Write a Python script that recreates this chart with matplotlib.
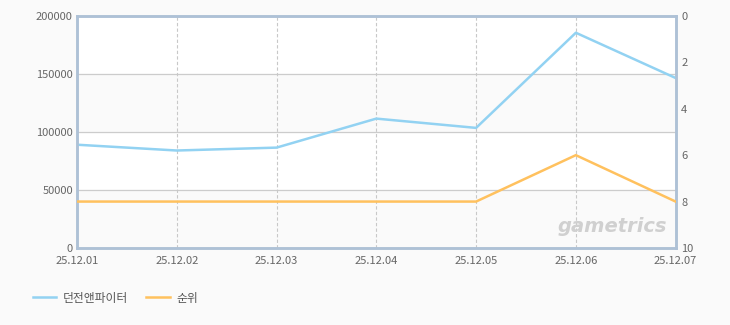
import matplotlib.pyplot as plt
import numpy as np

plt.rcParams['font.family'] = ['Noto Sans CJK KR', 'DejaVu Sans']

dates = ['25.12.01', '25.12.02', '25.12.03', '25.12.04', '25.12.05', '25.12.06', '25.12.07']
players = [89000, 84000, 86500, 111500, 103500, 185500, 146500]
rank = [8, 8, 8, 8, 8, 6, 8]

blue = '#92d2f2'
orange = '#ffc15e'
spine = '#aec1d6'

fig = plt.figure(figsize=(7.3, 3.25), dpi=100, facecolor='#fafafa')
ax = fig.add_axes([0.1055, 0.237, 0.82, 0.714])
ax.set_facecolor('white')

x = np.arange(len(dates))
ax.set_xlim(0, len(dates) - 1)
ax.set_ylim(0, 200000)
ax.set_yticks(np.arange(0, 200001, 50000))

# alternate bands
for lo in (0, 100000):
    ax.axhspan(lo, lo + 50000, color='#fafafa', zorder=0)
for v in (50000, 100000, 150000):
    ax.axhline(v, color='#cccccc', lw=0.9, zorder=1)
for xi in x[1:-1]:
    ax.axvline(xi, color='#c8c8c8', lw=0.8, ls=(0, (3, 2)), zorder=1)

ax.plot(x, players, color=blue, lw=1.8, zorder=3, label='던전앤파이터')

ax2 = ax.twinx()
ax2.set_ylim(10, 0)
ax2.set_yticks(np.arange(0, 11, 2))
ax2.plot(x, rank, color=orange, lw=1.8, zorder=3, label='순위')

ax.set_xticks(x)
ax.set_xticklabels(dates)
for a in (ax, ax2):
    for s in a.spines.values():
        s.set_color(spine)
        s.set_linewidth(1.8)
    a.tick_params(length=0, labelsize=8, colors='#666666')
ax.tick_params(axis='x', pad=6)
ax.tick_params(axis='y', pad=3)
ax2.tick_params(axis='y', pad=4)

ax.text(0.985, 0.05, 'gametrics', transform=ax.transAxes, ha='right', va='bottom',
        fontsize=14, fontweight='bold', style='italic', color='#d0d0d0',
        family='DejaVu Sans', zorder=2)

h1, l1 = ax.get_legend_handles_labels()
h2, l2 = ax2.get_legend_handles_labels()
fig.legend(h1 + h2, l1 + l2, loc='lower left', bbox_to_anchor=(0.03, 0.03),
           ncol=2, frameon=False, fontsize=8.5, labelcolor='#555555',
           handlelength=2.0, columnspacing=1.5, handletextpad=0.6)

fig.savefig('out.png', dpi=100, facecolor=fig.get_facecolor())
